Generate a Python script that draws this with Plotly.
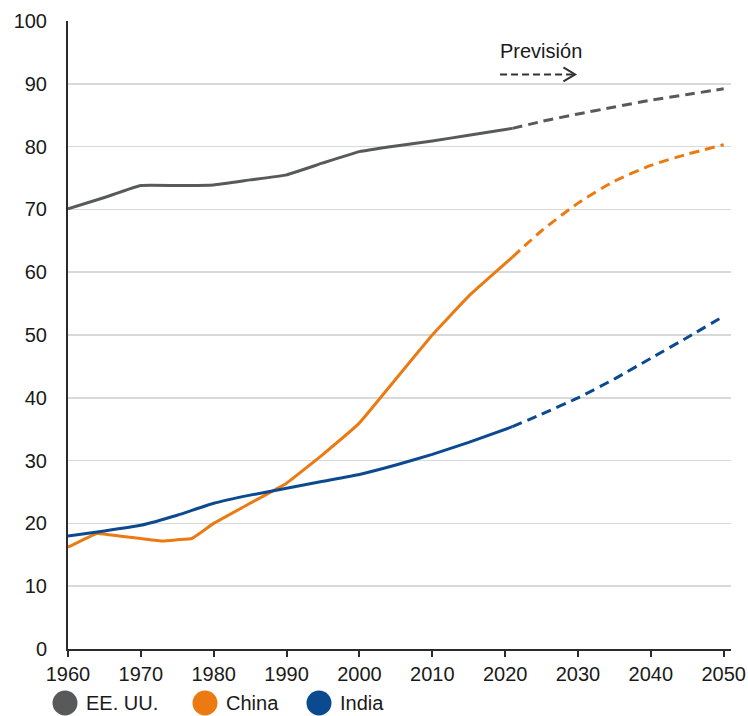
import plotly.graph_objects as go

# Historical data (solid)
hist_years_us = [1960, 1965, 1970, 1975, 1980, 1985, 1990, 1995, 2000, 2005, 2010, 2015, 2021]
hist_us = [70.1, 71.9, 73.8, 73.8, 73.9, 74.7, 75.5, 77.4, 79.2, 80.1, 80.9, 81.8, 82.9]
fc_years_us = [2021, 2025, 2030, 2035, 2040, 2045, 2050]
fc_us = [82.9, 84.0, 85.2, 86.3, 87.4, 88.3, 89.2]

hist_years_cn = [1960, 1964, 1967, 1970, 1973, 1975, 1977, 1980, 1985, 1990, 1995, 2000, 2005, 2010, 2015, 2021]
hist_cn = [16.2, 18.4, 18.0, 17.6, 17.2, 17.4, 17.6, 20.0, 23.2, 26.4, 31.0, 36.0, 43.0, 50.0, 56.2, 62.4]
fc_years_cn = [2021, 2025, 2030, 2035, 2040, 2045, 2050]
fc_cn = [62.4, 66.6, 71.0, 74.5, 77.0, 78.8, 80.3]

hist_years_in = [1960, 1965, 1970, 1975, 1980, 1985, 1990, 1995, 2000, 2005, 2010, 2015, 2021]
hist_in = [18.0, 18.8, 19.7, 21.3, 23.2, 24.5, 25.6, 26.7, 27.8, 29.3, 31.0, 32.9, 35.4]
fc_years_in = [2021, 2025, 2030, 2035, 2040, 2045, 2050]
fc_in = [35.4, 37.4, 40.0, 43.0, 46.3, 49.6, 53.0]

series_names = ["EE. UU.", "China", "India"]
colors = ["#58595b", "#ec7a12", "#0c4a90"]

x_ticks = [1960, 1970, 1980, 1990, 2000, 2010, 2020, 2030, 2040, 2050]
y_ticks = [0, 10, 20, 30, 40, 50, 60, 70, 80, 90, 100]

FONT = "Liberation Sans, Arial, sans-serif"

fig = go.Figure()
data = [
    (hist_years_us, hist_us, fc_years_us, fc_us),
    (hist_years_cn, hist_cn, fc_years_cn, fc_cn),
    (hist_years_in, hist_in, fc_years_in, fc_in),
]
for (hx, hy, fx, fy), name, col in zip(data, series_names, colors):
    fig.add_trace(go.Scatter(x=hx, y=hy, mode="lines", name=name,
                             line=dict(color=col, width=3, shape="spline", smoothing=0.3),
                             showlegend=False, hoverinfo="skip"))
    fig.add_trace(go.Scatter(x=fx, y=fy, mode="lines", name=name + " (previsión)",
                             line=dict(color=col, width=3, dash="10px,6px", shape="spline", smoothing=0.6),
                             showlegend=False, hoverinfo="skip"))

# body margin is removed via post_script, so figure starts at (0,0)
OFF = 0
W, H = 748 - OFF, 716 - OFF
L, T = 68 - OFF, 21 - OFF
R = W - (731 - OFF)
B = H - (649 - OFF)
pw, ph = W - L - R, H - T - B

def px2paper_x(px):
    return (px - OFF - L) / pw

def py2paper_y(py):
    return (H - B - (py - OFF)) / ph

shapes = []
annotations = []

# Previsión annotation with dashed arrow
annotations.append(dict(x=2019.0, y=95.3, xref="x", yref="y", text="Previsión",
                        showarrow=False, xanchor="left", yanchor="middle",
                        font=dict(family=FONT, size=20, color="#1a1a1a")))
shapes.append(dict(type="line", x0=2019.3, x1=2029.3, y0=91.5, y1=91.5, xref="x", yref="y",
                   line=dict(color="#333333", width=2, dash="7px,4px")))
shapes.append(dict(type="path", xref="x", yref="y",
                   path="M 2028.0,92.6 L 2029.6,91.5 L 2028.0,90.4",
                   line=dict(color="#333333", width=2)))

# Manual legend
legend_items = [(65, "EE. UU."), (205, "China"), (319, "India")]
ly = 703
for (cx, label), col in zip(legend_items, colors):
    shapes.append(dict(type="circle", xref="paper", yref="paper",
                       xsizemode="pixel", ysizemode="pixel",
                       xanchor=px2paper_x(cx), yanchor=py2paper_y(ly),
                       x0=-12.5, x1=12.5, y0=-12.5, y1=12.5,
                       fillcolor=col, line=dict(width=0)))
    annotations.append(dict(x=px2paper_x(cx + 19), y=py2paper_y(ly), xref="paper", yref="paper",
                            text=label, showarrow=False, xanchor="left", yanchor="middle",
                            font=dict(family=FONT, size=20, color="#1a1a1a")))

fig.update_layout(
    width=W, height=H,
    margin=dict(l=L, r=R, t=T, b=B, autoexpand=False),
    plot_bgcolor="white", paper_bgcolor="white",
    font=dict(family=FONT, size=20, color="#1a1a1a"),
    showlegend=False,
    shapes=shapes,
    annotations=annotations,
    xaxis=dict(range=[1960, 2051], tickvals=x_ticks, ticktext=[str(v) for v in x_ticks],
               showgrid=False, zeroline=False, showline=True, linecolor="#2b2b2b", linewidth=2,
               ticks="outside", ticklen=6, tickwidth=2, tickcolor="#2b2b2b",
               tickfont=dict(family=FONT, size=20, color="#1a1a1a"), fixedrange=True),
    yaxis=dict(range=[0, 100], tickvals=y_ticks, ticktext=[str(v) for v in y_ticks],
               showgrid=True, gridcolor="#d9d9d9", gridwidth=1.5, zeroline=False,
               showline=True, linecolor="#2b2b2b", linewidth=2, ticks="",
               ticklabelstandoff=15,
               tickfont=dict(family=FONT, size=20, color="#1a1a1a"), fixedrange=True),
)

fig.write_html("out.html",
               config={"displayModeBar": False, "staticPlot": True},
               post_script="document.body.style.margin='0';document.body.style.overflow='hidden';")
